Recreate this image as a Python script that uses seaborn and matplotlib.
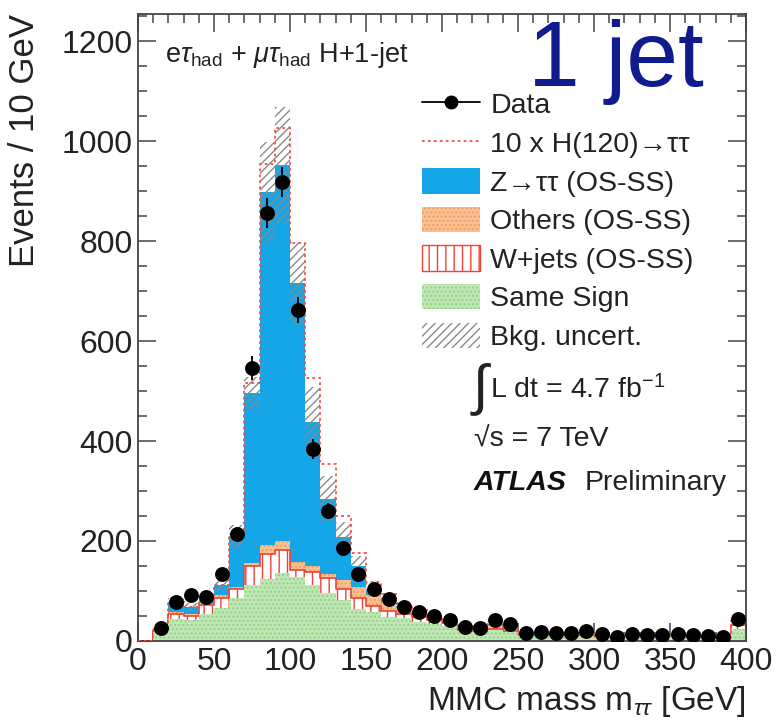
import numpy as np
import pandas as pd
import matplotlib
matplotlib.use("Agg")
import matplotlib.pyplot as plt
import seaborn as sns
from matplotlib.patches import Patch
from matplotlib.lines import Line2D
from matplotlib.ticker import MultipleLocator

# ---------------- data ----------------
bin_edges = list(range(0, 410, 10))  # MMC mass bins [GeV]
data_counts = [0, 26, 78, 92, 88, 135, 214, 546, 856, 918, 662, 384, 260, 187, 134, 104,
               84, 68, 58, 50, 43, 28, 26, 42, 34, 16, 18, 16, 16, 20, 14, 8, 14, 12, 12,
               14, 12, 10, 8, 44]
same_sign = [0, 18, 44, 43, 55, 67, 86, 112, 124, 136, 128, 112, 97, 82, 64, 58, 48, 47, 39,
             35, 31, 20, 19, 22, 19, 11, 10, 10, 9, 10, 8, 7, 8, 8, 7, 8, 7, 6, 5, 24]
wjets = [0, 3, 10, 7, 17, 19, 18, 38, 51, 46, 14, 26, 29, 23, 23, 12, 12, 8, 9, 7, 6, 3, 2,
         3, 2, 1, 1, 1, 1, 1, 1, 1, 1, 1, 1, 1, 1, 1, 1, 8]
others = [0, 2, 4, 4, 4, 7, 5, 7, 17, 19, 17, 12, 8, 17, 22, 22, 18, 11, 9, 6, 5, 5, 4, 7, 4,
          2, 2, 2, 2, 2, 2, 1, 2, 1, 2, 2, 2, 1, 1, 6]
ztautau = [0, 3, 20, 14, 4, 20, 100, 340, 707, 751, 558, 289, 151, 86, 41, 12, 8, 4, 3, 3, 2,
           2, 7, 3, 3, 1, 1, 1, 1, 1, 1, 1, 1, 1, 1, 1, 1, 1, 1, 2]
higgs_x10 = [0, 0, 0, 0, 0, 0, 5, 20, 55, 75, 80, 87, 70, 42, 26, 14, 8, 4, 2, 0, 0, 0, 0, 0,
             0, 0, 0, 0, 0, 0, 0, 0, 0, 0, 0, 0, 0, 0, 0, 0]
bkg_uncert = [0, 4, 8, 8, 9, 12, 24, 32, 100, 117, 82, 70, 45, 30, 20, 12, 10, 8, 7, 6, 5, 4,
              4, 4, 4, 3, 3, 3, 3, 3, 3, 2, 3, 2, 2, 3, 2, 2, 2, 5]

legend_labels = ["Data", "10 x H(120)\u2192\u03c4\u03c4", "Z\u2192\u03c4\u03c4 (OS-SS)",
                 "Others (OS-SS)", "W+jets (OS-SS)", "Same Sign", "Bkg. uncert."]

# ---------------- style ----------------
sns.set_theme(style="ticks")
plt.rcParams['font.family'] = ['Liberation Sans', 'DejaVu Sans']
plt.rcParams['mathtext.fontset'] = 'custom'
plt.rcParams['mathtext.rm'] = 'Liberation Sans'
plt.rcParams['mathtext.it'] = 'Liberation Sans:italic'
plt.rcParams['mathtext.bf'] = 'Liberation Sans:bold'
plt.rcParams['hatch.linewidth'] = 1.0

C_Z = '#14a6e6'
C_OTH_F, C_OTH_E = '#f8c094', '#f29d5c'
C_W = '#ee4236'
C_SS_F, C_SS_E = '#bfe8b5', '#94d187'
C_UNC = '#8a8a8a'
C_SIG = '#f0524a'
TXT = '#222222'

W, H = 780, 721
fig = plt.figure(figsize=(W / 100, H / 100), dpi=100)
L, R, T, B = 138, 746, 14, 641
ax = fig.add_axes([L / W, 1 - B / H, (R - L) / W, (B - T) / H])

edges = np.array(bin_edges, dtype=float)
centers = (edges[:-1] + edges[1:]) / 2
comps = [np.array(same_sign, float), np.array(wjets, float),
         np.array(others, float), np.array(ztautau, float)]
cum = np.cumsum(comps, axis=0)
total = cum[-1]

styles = [
    dict(facecolor=C_SS_F, edgecolor=C_SS_E, hatch='....', linewidth=0),
    dict(facecolor='white', edgecolor=C_W, hatch='||', linewidth=1.2),
    dict(facecolor=C_OTH_F, edgecolor=C_OTH_E, hatch='....', linewidth=0),
    dict(facecolor=C_Z, edgecolor=C_Z, linewidth=0),
]
# draw from the top layer down so every lower layer is visible
for i in range(len(comps) - 1, -1, -1):
    df = pd.DataFrame({'mass': centers, 'events': cum[i]})
    sns.histplot(data=df, x='mass', weights='events', bins=bin_edges, element='step',
                 fill=True, alpha=1, ax=ax, **styles[i])

# background uncertainty band
ax.stairs(total + np.array(bkg_uncert), edges, baseline=total - np.array(bkg_uncert),
          fill=True, facecolor='none', edgecolor=C_UNC, hatch='////', linewidth=0, zorder=2)
# signal x10 on top of the stack
ax.stairs(total + np.array(higgs_x10), edges, baseline=None, color=C_SIG,
          linestyle=(0, (1.5, 1.8)), linewidth=1.3, zorder=3)

# data
d = np.array(data_counts, float)
m = d > 0
ax.errorbar(centers[m], d[m], yerr=np.sqrt(d[m]), fmt='none', ecolor='black',
            elinewidth=1.3, capsize=0, zorder=4)
sns.scatterplot(x=centers[m], y=d[m], color='black', s=115, linewidth=0, zorder=5,
                ax=ax, legend=False)

# axes
ax.set_xlim(0, 400)
ax.set_ylim(0, 1254)
ax.xaxis.set_major_locator(MultipleLocator(50))
ax.xaxis.set_minor_locator(MultipleLocator(10))
ax.yaxis.set_major_locator(MultipleLocator(200))
ax.yaxis.set_minor_locator(MultipleLocator(50))
ax.tick_params(which='both', direction='in', top=True, right=True, colors='#444444',
               labelcolor=TXT, labelsize=23, width=1.1)
ax.tick_params(which='major', length=13, pad=4)
ax.tick_params(which='minor', length=6.5)
for s in ax.spines.values():
    s.set_linewidth(1.3)
    s.set_color('#444444')

ax.set_xlabel('MMC mass m$_{\\tau\\tau}$ [GeV]', fontsize=24, color=TXT, loc='right')
ax.set_ylabel('Events / 10 GeV', fontsize=25, color=TXT, loc='top')
ax.xaxis.set_label_coords(1.0, -0.068)
ax.yaxis.set_label_coords(-0.16, 1.0)

# legend
handles = [
    Line2D([0], [0], color='black', marker='o', markersize=9, linewidth=1.3),
    Line2D([0], [0], color=C_SIG, linestyle=(0, (1.5, 1.8)), linewidth=1.3),
    Patch(facecolor=C_Z, edgecolor=C_Z, linewidth=0),
    Patch(facecolor=C_OTH_F, edgecolor=C_OTH_E, hatch='....', linewidth=0),
    Patch(facecolor='white', edgecolor=C_W, hatch='||', linewidth=1.0),
    Patch(facecolor=C_SS_F, edgecolor=C_SS_E, hatch='....', linewidth=0),
    Patch(facecolor='none', edgecolor=C_UNC, hatch='////', linewidth=0),
]
leg = ax.legend(handles, legend_labels, loc='upper left',
                bbox_to_anchor=((422 - L) / (R - L), (B - 91) / (B - T)),
                frameon=False, fontsize=20.5, handlelength=2.05, handleheight=1.0,
                handletextpad=0.35, labelspacing=0.355, borderpad=0, borderaxespad=0)
for t in leg.get_texts():
    t.set_color(TXT)

def px(x, y):
    return x / W, 1 - y / H

fig.text(*px(165, 55), 'e$\\tau_{\\mathregular{had}}$ + $\\mu\\tau_{\\mathregular{had}}$ H+1-jet',
         fontsize=19.5, color=TXT, va='center', ha='left')
fig.text(*px(528, 86), '1 jet', fontsize=67, color='#101c8c', va='baseline', ha='left',
         zorder=10)
fig.text(*px(470, 390), '$\\int$', fontsize=40, color=TXT, va='center', ha='left')
fig.text(*px(490, 390), 'L dt = 4.7 fb$^{\\mathregular{-1}}$', fontsize=20.5, color=TXT,
         va='center', ha='left')
fig.text(*px(474, 440), '\u221as = 7 TeV', fontsize=20.5, color=TXT, va='center', ha='left')
fig.text(*px(474, 483), 'ATLAS', fontsize=20.5, color='#111111', va='center', ha='left',
         fontweight='bold', fontstyle='italic')
fig.text(*px(585, 483), 'Preliminary', fontsize=20.5, color=TXT, va='center', ha='left')

fig.savefig('out.png', dpi=100)
